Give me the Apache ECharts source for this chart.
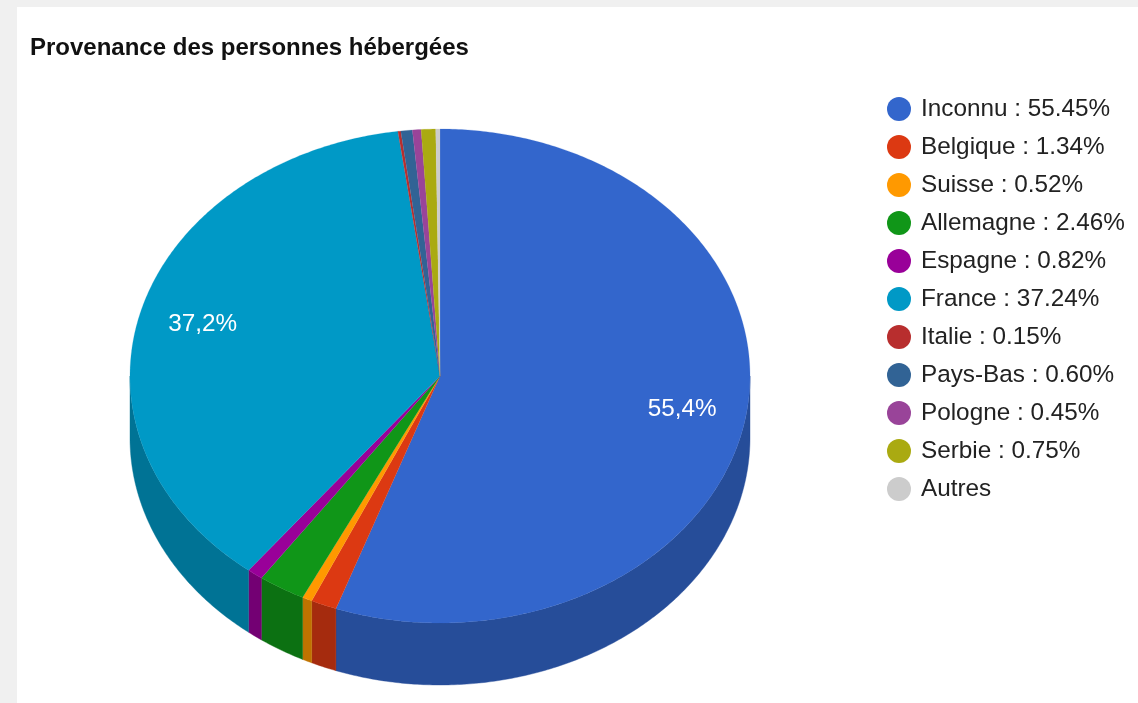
<!DOCTYPE html>
<html><head><meta charset="utf-8">
<style>
html,body{margin:0;padding:0;width:1138px;height:703px;overflow:hidden;background:#f0f0f0}
#panel{position:absolute;left:17px;top:7px;width:1121px;height:696px;background:#fff}
#chart{position:absolute;left:0;top:0;width:1138px;height:703px;filter:blur(0.45px)}
</style>
<script src="https://cdn.jsdelivr.net/npm/echarts@6/dist/echarts.min.js"></script>
</head><body><div id="panel"></div><div id="chart"></div>
<script>
const titleText = 'Provenance des personnes hébergées';
const categories = ['Inconnu','Belgique','Suisse','Allemagne','Espagne','France','Italie','Pays-Bas','Pologne','Serbie','Autres'];
const values = [55.45,1.34,0.52,2.46,0.82,37.24,0.15,0.60,0.45,0.75,0.22];
const legendValues = ['55.45%','1.34%','0.52%','2.46%','0.82%','37.24%','0.15%','0.60%','0.45%','0.75%',''];
const sliceLabels = ['55,4%','','','','','37,2%','','','','',''];
const colors = ['#3366cc','#dc3912','#ff9900','#109618','#990099','#0099c6','#b82e2e','#316395','#994499','#aaaa11','#cccccc'];
const wallColors = ['#264d99','#a52b0e','#bf7300','#0c7112','#730073','#007395','#8a2323','#254a70','#733373','#80800d','#999999'];

const CX = 440, CY = 376, RX = 310, RY = 247, DEPTH = 62, LABEL_R = 0.793;
const total = values.reduce((a,b)=>a+b,0);
const starts = values.map((v,i)=>values.slice(0,i).reduce((a,b)=>a+b,0));
const toParam = p => p/total*2*Math.PI;
const pt = (a,dy=0,k=1) => [CX+RX*k*Math.sin(a), CY-RY*k*Math.cos(a)+dy];
function arc(a0,a1,dy=0){
  const n = Math.max(2,Math.ceil((a1-a0)/0.01)), out=[];
  for(let i=0;i<=n;i++) out.push(pt(a0+(a1-a0)*i/n,dy));
  return out;
}
function renderSlice(idx){
  return function(params,api){
    const start = toParam(api.value(1)), end = toParam(api.value(1)+api.value(0));
    const children = [];
    const w0 = Math.max(start,Math.PI/2), w1 = Math.min(end,1.5*Math.PI);
    if(w1>w0){
      children.push({type:'polygon',z2:1,shape:{points:arc(w0,w1).concat(arc(w0,w1,DEPTH).reverse())},
        style:{fill:wallColors[idx],stroke:wallColors[idx],lineWidth:0.4}});
    }
    children.push({type:'polygon',z2:5,shape:{points:[[CX,CY]].concat(arc(start,end))},
      style:{fill:colors[idx],stroke:colors[idx],lineWidth:0.2}});
    if(sliceLabels[idx]){
      const l = pt((start+end)/2,0,LABEL_R);
      children.push({type:'text',z2:10,x:l[0],y:l[1],
        style:{text:sliceLabels[idx],fill:'#fff',font:'24.3px "Liberation Sans"',align:'center',verticalAlign:'middle'}});
    }
    return {type:'group',children};
  };
}
const chart = echarts.init(document.getElementById('chart'),null,{renderer:'canvas'});
chart.setOption({
  animation:false,
  title:{text:titleText,left:30,top:36,padding:0,
    textStyle:{fontFamily:'Liberation Sans',fontWeight:'bold',fontSize:24,color:'#111'}},
  legend:{orient:'vertical',left:887,top:97,padding:0,itemWidth:24,itemHeight:24,itemGap:14,icon:'circle',selectedMode:false,
    data:categories,
    formatter:n=>{const v=legendValues[categories.indexOf(n)];return v?n+' : '+v:n;},
    textStyle:{fontFamily:'Liberation Sans',fontSize:24.3,color:'#222',padding:[0,0,0,5]}},
  tooltip:{show:false},
  series:categories.map((name,i)=>({
    type:'custom',name,coordinateSystem:'none',
    itemStyle:{color:colors[i]},
    renderItem:renderSlice(i),
    data:[[values[i],starts[i]]],
    silent:true
  }))
});
</script></body></html>
